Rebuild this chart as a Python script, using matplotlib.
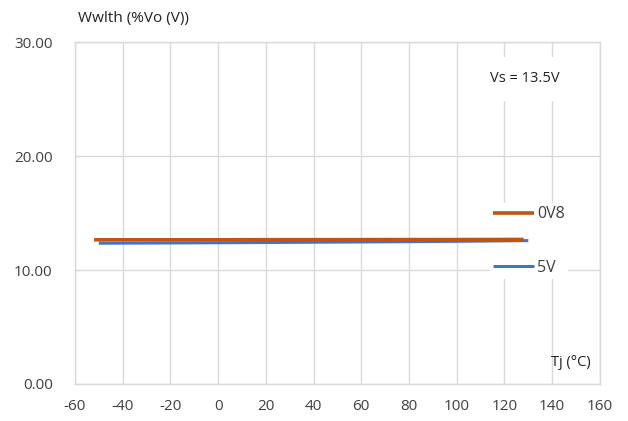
import matplotlib
matplotlib.use("Agg")
import matplotlib.pyplot as plt

plt.rcParams['font.family'] = ['Open Sans', 'DejaVu Sans']
plt.rcParams['axes.unicode_minus'] = False

temps_0v8 = [-52, -25, 0, 25, 50, 75, 100, 128]
vals_0v8 = [12.65, 12.65, 12.65, 12.66, 12.66, 12.67, 12.67, 12.68]
temps_5v = [-50, -25, 0, 25, 50, 75, 100, 130]
vals_5v = [12.35, 12.37, 12.39, 12.42, 12.45, 12.48, 12.52, 12.58]
xticks = list(range(-60, 161, 20))
yticks = [0, 10, 20, 30]

fig = plt.figure(figsize=(6.28, 4.21), dpi=100)
ax = fig.add_axes([0.1194, 0.088, 0.8358, 0.812])

grid_c = '#d9d9d9'
ax.plot(temps_0v8, vals_0v8, color='#C0550F', lw=2.6, label='0V8', zorder=4, solid_capstyle='butt')
ax.plot(temps_5v, vals_5v, color='#4472C4', lw=2.2, label='5V', zorder=3.5, solid_capstyle='butt')

ax.set_xlim(-60, 160)
ax.set_ylim(0, 30)
ax.set_xticks(xticks)
ax.set_yticks(yticks)
ax.set_yticklabels([f"{v:.2f}" for v in yticks])
ax.grid(True, color=grid_c, lw=1)
ax.set_axisbelow(True)
for s in ax.spines.values():
    s.set_color(grid_c)
    s.set_linewidth(1)
ax.tick_params(length=0, labelsize=11, colors='#404040')
ax.tick_params(axis='x', pad=11)
ax.tick_params(axis='y', pad=16)

leg = ax.legend(loc='center left', bbox_to_anchor=(0.775, 0.418), frameon=True,
                fontsize=11.5, handlelength=2.6, handletextpad=0.15, labelspacing=2.35,
                borderpad=0.2, labelcolor='#404040')
leg.get_frame().set_facecolor('white')
leg.get_frame().set_edgecolor('none')
leg.get_frame().set_alpha(1)
leg.set_zorder(3)

fig.text(0.124, 0.957, 'Wwlth (%Vo (V))', fontsize=11, color='#202020', ha='left', va='center')
ax.text(0.924, 0.893, 'Vs = 13.5V', transform=ax.transAxes, fontsize=10.5, color='#202020',
        ha='right', va='center', zorder=5,
        bbox=dict(boxstyle='square,pad=1.0', facecolor='white', edgecolor='none'))
ax.text(0.982, 0.062, 'Tj (°C)', transform=ax.transAxes, fontsize=10.5, color='#202020', ha='right', va='center')

fig.savefig('out.png', dpi=100)
